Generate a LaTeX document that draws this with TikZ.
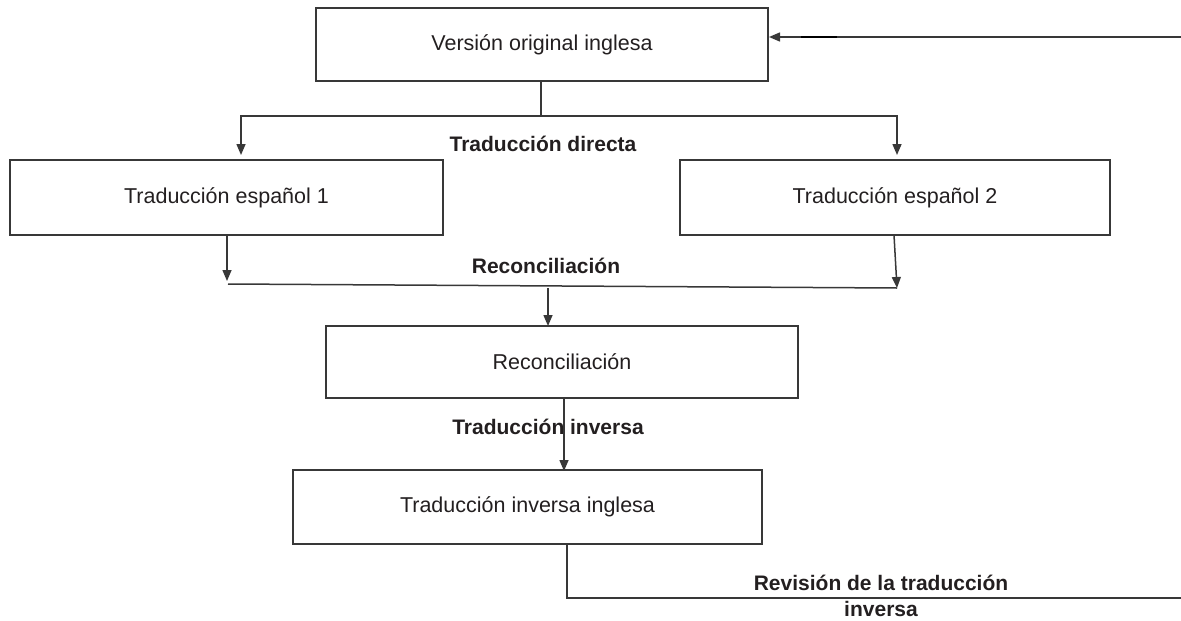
\documentclass[tikz,border=0pt]{standalone}
\usepackage{fontspec}
\setmainfont{Liberation Sans}
\usetikzlibrary{arrows.meta}
\definecolor{ln}{HTML}{383838}
\definecolor{tx}{HTML}{231F20}
\tikzset{
  box/.style={draw=ln, line width=1.6pt, inner sep=0pt, text=tx,
    font=\fontsize{21.5}{26}\selectfont},
  lbl/.style={text=tx, inner sep=0pt, align=center,
    font=\fontsize{21}{27}\selectfont\bfseries},
  conn/.style={draw=ln, line width=1.5pt},
  arr/.style={conn, -{Triangle[length=11pt,width=9pt]}},
}
\begin{document}
\begin{tikzpicture}[x=1pt,y=-1pt]
\useasboundingbox (0,0) rectangle (1181,621);
% boxes
\node[box, minimum width=452pt, minimum height=73pt] (b1) at (542,44.5) {Versión original inglesa};
\node[box, minimum width=433pt, minimum height=75pt] (b2) at (226.5,197.5) {Traducción español 1};
\node[box, minimum width=430pt, minimum height=75pt] (b3) at (895,197.5) {Traducción español 2};
\node[box, minimum width=472pt, minimum height=72pt] (b4) at (562,362) {Reconciliación};
\node[box, minimum width=469pt, minimum height=74pt] (b5) at (527.5,507) {Traducción inversa inglesa};
% labels
\node[lbl, anchor=base] (l1) at (543,151) {Traducción directa};
\node[lbl, anchor=base] (l2) at (546,273) {Reconciliación};
\node[lbl, anchor=base] (l3) at (548,434) {Traducción inversa};
\node[lbl, anchor=base, font=\fontsize{21}{26}\selectfont\bfseries] (l4) at (881,616.5) {Revisión de la traducción\\inversa};
% coordinates
\coordinate (d0) at (541,81);
\coordinate (d1) at (541,116);
\coordinate (tL) at (241,155);
\coordinate (tR) at (897,155);
\coordinate (r1a) at (227,235);
\coordinate (r1b) at (227,281);
\coordinate (r2a) at (894,235);
\coordinate (r2b) at (897,288);
\coordinate (hL) at (228,284);
\coordinate (hR) at (897,288);
\coordinate (m0) at (548,288);
\coordinate (m1) at (548,326);
\coordinate (i0) at (564,398);
\coordinate (i1) at (564,471);
\coordinate (v0) at (567,544);
\coordinate (v1) at (567,598);
\coordinate (e1) at (1182,598);
\coordinate (e2) at (1182,37);
\coordinate (e3) at (769,37);
\coordinate (k1) at (801,37);
\coordinate (k2) at (837,37);
% connectors
\draw[conn] (d0) -- (d1);
\draw[arr] (d1) -| (tL);
\draw[arr] (d1) -| (tR);
\draw[arr] (r1a) -- (r1b);
\draw[arr] (r2a) -- (r2b);
\draw[conn] (hL) -- (hR);
\draw[arr] (m0) -- (m1);
\draw[arr] (i0) -- (i1);
\draw[arr] (v0) -- (v1) -- (e1) -- (e2) -- (e3);
\draw[draw=black, line width=2.3pt] (k1) -- (k2);
\end{tikzpicture}
\end{document}
